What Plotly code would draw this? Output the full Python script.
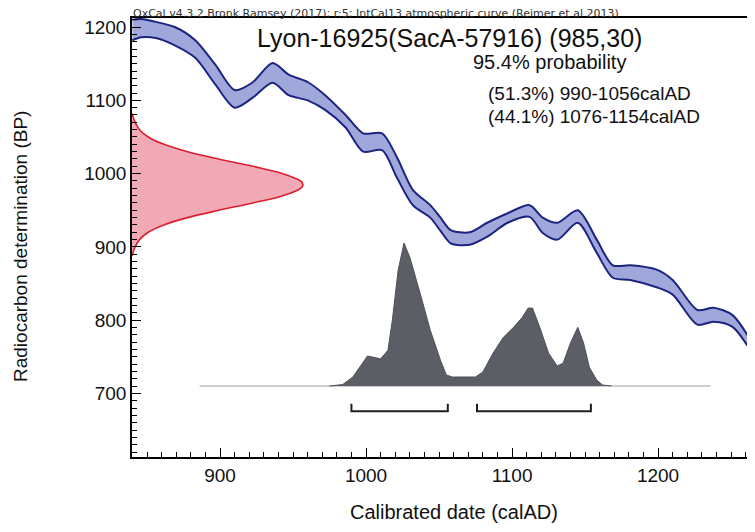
import plotly.graph_objects as go

# ---------------- data ----------------
# IntCal13 calibration band (calAD year, upper BP edge, lower BP edge)
cal_year = [840, 846, 856, 869, 883, 897, 910, 922, 936, 947, 960, 972, 986, 998,
            1011, 1021, 1032, 1044, 1051, 1058, 1071, 1083, 1097, 1112, 1121, 1131,
            1145, 1158, 1169, 1181, 1199, 1210, 1227, 1238, 1251, 1266]
cal_upper = [1210, 1211, 1207, 1200, 1182, 1148, 1114, 1124, 1151, 1135, 1125, 1107, 1080, 1055,
             1055, 1023, 978, 957, 940, 923, 920, 933, 946, 957, 940, 933,
             950, 910, 875, 875, 869, 855, 814, 817, 807, 764]
cal_lower = [1182, 1186, 1185, 1175, 1158, 1121, 1090, 1103, 1124, 1107, 1100, 1087, 1063, 1030,
             1032, 995, 957, 940, 922, 905, 903, 914, 933, 941, 919, 910,
             933, 892, 858, 855, 845, 835, 794, 798, 791, 750]

# Radiocarbon determination (985 +/- 30 BP), relative probability
c14_bp = [1082, 1070, 1060, 1050, 1040, 1030, 1020, 1010, 1000, 990, 985,
          980, 970, 960, 950, 940, 930, 920, 910, 900, 888]
c14_prob = [0.0, 0.018, 0.044, 0.095, 0.186, 0.325, 0.506, 0.707, 0.882, 0.986, 1.0,
            0.986, 0.882, 0.707, 0.506, 0.325, 0.186, 0.095, 0.044, 0.018, 0.0]

# Calibrated date distribution (calAD, relative probability)
dist_year = [975, 984, 991, 1001, 1010, 1015, 1018, 1022, 1026, 1030, 1037, 1044, 1051,
             1055, 1059, 1075, 1080, 1087, 1094, 1101, 1107, 1111, 1114, 1119, 1125,
             1131, 1135, 1140, 1145, 1149, 1153, 1158, 1162, 1168]
dist_prob = [0.0, 0.01, 0.063, 0.21, 0.19, 0.25, 0.46, 0.81, 1.0, 0.90, 0.65, 0.39, 0.18,
             0.077, 0.063, 0.063, 0.098, 0.23, 0.34, 0.41, 0.48, 0.545, 0.545, 0.41, 0.23,
             0.14, 0.16, 0.30, 0.41, 0.30, 0.13, 0.042, 0.007, 0.0]
dist_span = [886, 1236]

# 95.4% ranges
range_start = [990, 1076]
range_end = [1056, 1154]

x_ticks = [900, 1000, 1100, 1200]
y_ticks = [700, 800, 900, 1000, 1100, 1200]

# ---------------- layout helpers ----------------
# page body has an 8px margin, so the figure is drawn at (8, 8) in the window
OFF = 8
W, H = 747, 524
L, R, T, B = 124, 0, 10, 75
PW, PH = W - L - R, H - T - B
XR = [839.7, 1266.4]
YR = [613.5, 1212.3]

def px(x):  # window pixel -> paper x
    return (x - OFF - L) / PW

def py(y):  # window pixel -> paper y
    return (H - B - (y - OFF)) / PH

FONT = "Liberation Sans, Arial, Helvetica, sans-serif"
band_line = "rgb(28,36,128)"
band_fill = "rgb(160,167,219)"

fig = go.Figure()

# baseline of calibrated distribution
fig.add_trace(go.Scatter(x=dist_span, y=[0, 0], xaxis="x", yaxis="y2", mode="lines",
                         line=dict(color="rgb(206,206,206)", width=2), hoverinfo="skip"))
# calibrated distribution
fig.add_trace(go.Scatter(x=dist_year, y=dist_prob, xaxis="x", yaxis="y2", mode="lines",
                         fill="tozeroy", fillcolor="rgb(92,94,102)",
                         line=dict(color="rgb(80,82,90)", width=1), hoverinfo="skip"))

# calibration curve band
fig.add_trace(go.Scatter(x=cal_year, y=cal_lower, mode="lines",
                         line=dict(color=band_line, width=2, shape="spline", smoothing=0.8),
                         hoverinfo="skip"))
fig.add_trace(go.Scatter(x=cal_year, y=cal_upper, mode="lines", fill="tonexty",
                         fillcolor=band_fill,
                         line=dict(color=band_line, width=2, shape="spline", smoothing=0.8),
                         hoverinfo="skip"))

# radiocarbon determination (on the y axis)
fig.add_trace(go.Scatter(x=c14_prob, y=c14_bp, xaxis="x2", yaxis="y", mode="lines",
                         fill="tozerox", fillcolor="rgba(236,140,158,0.75)",
                         line=dict(color="rgb(220,30,45)", width=1.6, shape="spline"),
                         hoverinfo="skip"))

# range brackets
BR_Y, BR_T = 676, 686
for s, e in zip(range_start, range_end):
    fig.add_trace(go.Scatter(x=[s, s, e, e], y=[BR_T, BR_Y, BR_Y, BR_T], mode="lines",
                             line=dict(color="rgb(30,30,30)", width=2), hoverinfo="skip"))

fig.update_layout(
    width=W, height=H, margin=dict(l=L, r=R, t=T, b=B),
    paper_bgcolor="white", plot_bgcolor="white", showlegend=False,
    font=dict(family=FONT, color="black"),
    xaxis=dict(range=XR, tickvals=x_ticks, ticks="inside", ticklen=9, tickwidth=1.2,
               tickcolor="black", showline=True, linecolor="black", linewidth=1.5,
               mirror=True, showgrid=False, zeroline=False,
               tickfont=dict(size=19, family=FONT, color="#111"),
               minor=dict(dtick=10, ticks="inside", ticklen=5, tickcolor="black",
                          tickwidth=1, showgrid=False)),
    yaxis=dict(range=YR, tickvals=y_ticks, ticks="inside", ticklen=9, tickwidth=1.2,
               tickcolor="black", showline=True, linecolor="black", linewidth=1.5,
               showgrid=False, zeroline=False,
               tickfont=dict(size=19, family=FONT, color="#111"),
               minor=dict(dtick=10, ticks="inside", ticklen=5, tickcolor="black",
                          tickwidth=1, showgrid=False)),
    xaxis2=dict(overlaying="x", anchor="y", range=[0, PW / 171], visible=False),
    yaxis2=dict(overlaying="y", anchor="x",
                range=[-(457 - 386) / 143, (386 - 18) / 143], visible=False),
)

ann = [
    dict(text="OxCal v4.3.2 Bronk Ramsey (2017); r:5; IntCal13 atmospheric curve (Reimer et al 2013)",
         x=0, y=1, xanchor="left", yanchor="bottom", yshift=-3, borderpad=0,
         font=dict(size=11, color="#333", family="DejaVu Sans, sans-serif")),
    dict(text="Lyon-16925(SacA-57916) (985,30)", x=px(255), y=py(38),
         xanchor="left", yanchor="middle", font=dict(size=25, color="#111")),
    dict(text="95.4% probability", x=px(471), y=py(62),
         xanchor="left", yanchor="middle", font=dict(size=20, color="#111")),
    dict(text="(51.3%) 990-1056calAD", x=px(486), y=py(93),
         xanchor="left", yanchor="middle", font=dict(size=19, color="#111")),
    dict(text="(44.1%) 1076-1154calAD", x=px(486), y=py(116),
         xanchor="left", yanchor="middle", font=dict(size=19, color="#111")),
    dict(text="Calibrated date (calAD)", x=px(454), y=py(512),
         xanchor="center", yanchor="middle", font=dict(size=20, color="#111")),
    dict(text="Radiocarbon determination (BP)", x=px(20), y=py(247), textangle=-90,
         xanchor="center", yanchor="middle", font=dict(size=19, color="#111")),
]
for a in ann:
    a.update(xref="paper", yref="paper", showarrow=False)
fig.update_layout(annotations=ann)

fig.write_html("out.html")
